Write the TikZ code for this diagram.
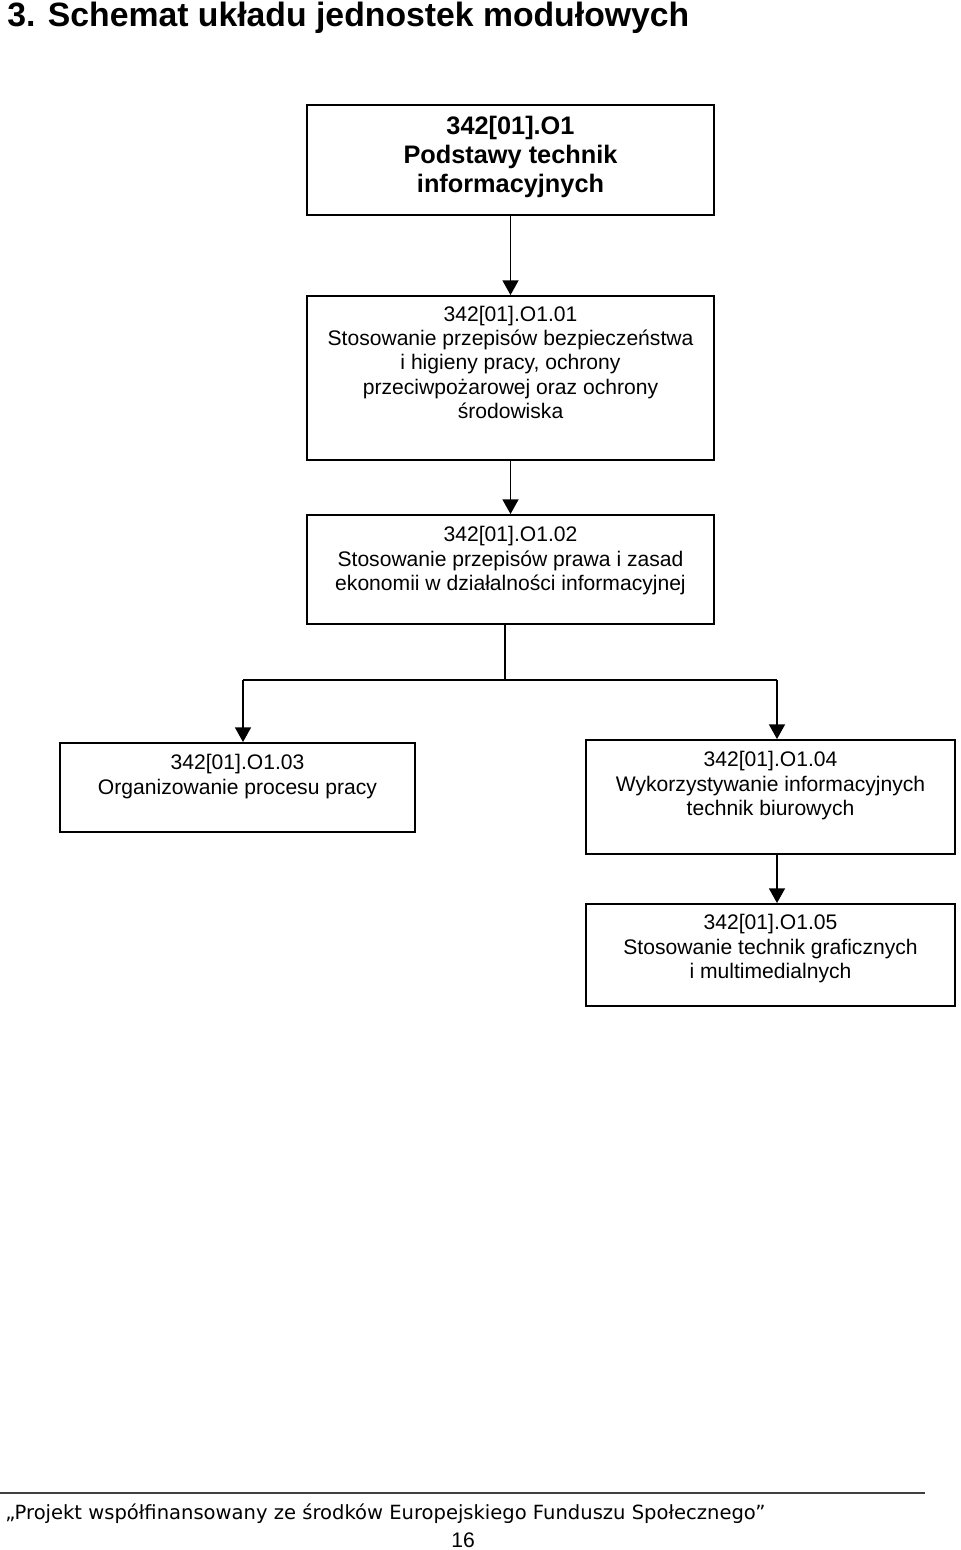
\documentclass[tikz,border=0pt]{standalone}
\usepackage{fontspec}
\setmainfont{Liberation Sans}
\newfontfamily\footfont{DejaVu Sans}
\usetikzlibrary{positioning,arrows.meta}

\tikzset{
    box/.style={draw, line width=1.3pt, rectangle, inner sep=0},
    boxtext/.style={inner sep=0, align=center, font=\fontsize{15}{17.4}\selectfont},
    arr/.style={line width=1.3pt, -{Triangle[width=0.4cm, length=0.37cm]}},
}

\begin{document}
\begin{tikzpicture}[x=0.025cm, y=-0.025cm]
    \useasboundingbox (0,0) rectangle (960,1550);

    \draw(7, 27) node [anchor=base west, inner sep=0, font=\fontsize{24}{28}\selectfont\bfseries](title){3. Schemat układu jednostek modułowych};

    \draw(510.5, 160) node [box, minimum width=10.175cm, minimum height=2.75cm](b1){};
    \draw(510.5, 378) node [box, minimum width=10.175cm, minimum height=4.1cm](b2){};
    \draw(510.5, 569.5) node [box, minimum width=10.175cm, minimum height=2.725cm](b3){};
    \draw(237.5, 787.5) node [box, minimum width=8.875cm, minimum height=2.225cm](b4){};
    \draw(770.5, 797) node [box, minimum width=9.225cm, minimum height=2.85cm](b5){};
    \draw(770.5, 955) node [box, minimum width=9.225cm, minimum height=2.55cm](b6){};

    \node [boxtext, font=\fontsize{18}{20.6}\selectfont\bfseries, below=0.3cm of b1.north](t1){342[01].O1\\Podstawy technik\\informacyjnych};
    \node [boxtext, below=0.26cm of b2.north](t2){342[01].O1.01\\Stosowanie przepisów bezpieczeństwa\\i higieny pracy, ochrony\\przeciwpożarowej oraz ochrony\\środowiska};
    \node [boxtext, below=0.3cm of b3.north](t3){342[01].O1.02\\Stosowanie przepisów prawa i zasad\\ekonomii w działalności informacyjnej};
    \node [boxtext, below=0.3cm of b4.north](t4){342[01].O1.03\\Organizowanie procesu pracy};
    \node [boxtext, below=0.3cm of b5.north](t5){342[01].O1.04\\Wykorzystywanie informacyjnych\\technik biurowych};
    \node [boxtext, below=0.28cm of b6.north](t6){342[01].O1.05\\Stosowanie technik graficznych\\i multimedialnych};

    \coordinate (j) at (505, 680);
    \coordinate (j4) at (243, 680);
    \coordinate (j5) at (777, 680);

    \draw[arr] (b1) -- (b2);
    \draw[arr] (b2) -- (b3);
    \draw[line width=1.3pt] (b3.south -| j) -- (j);
    \draw[line width=1.3pt] (j4) -- (j5);
    \draw[arr] (j4) -- (j4 |- b4.north);
    \draw[arr] (j5) -- (j5 |- b5.north);
    \draw[arr] (b5.south -| j5) -- (b6.north -| j5);

    \coordinate (rl) at (0, 1493);
    \coordinate (rr) at (925, 1493);
    \draw[line width=0.9pt, black!75] (rl) -- (rr);

    \draw(5, 1519) node [anchor=base west, inner sep=0, font=\footfont\fontsize{13.9}{16}\selectfont](foot){„Projekt współfinansowany ze środków Europejskiego Funduszu Społecznego”};
    \draw(463, 1547) node [anchor=base, inner sep=0, font=\fontsize{15}{18}\selectfont](page){16};
\end{tikzpicture}
\end{document}
